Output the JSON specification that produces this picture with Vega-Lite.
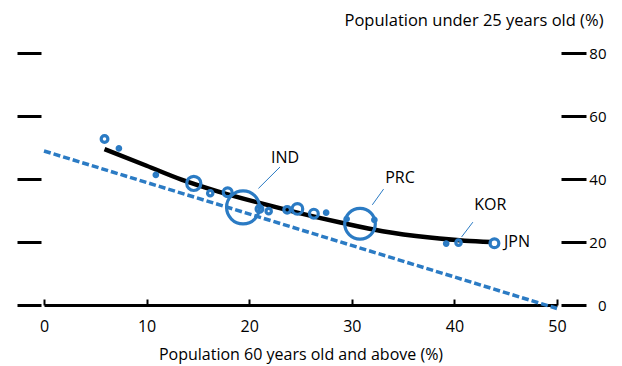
{
  "$schema": "https://vega.github.io/schema/vega-lite/v6.json",
  "width": 513,
  "height": 252,
  "autosize": {"type": "none"},
  "padding": {"left": 44, "top": 53, "right": 65, "bottom": 61},
  "config": {
    "view": {"stroke": null},
    "font": "Open Sans",
    "axis": {"grid": false}
  },
  "datasets": {
    "trend": [
      {"x": 0, "y": 48.9},
      {"x": 50, "y": -1.1}
    ],
    "curve": [
      {"x": 5.9, "y": 49.5},
      {"x": 10, "y": 44.2},
      {"x": 13.4, "y": 39.8},
      {"x": 17, "y": 36.0},
      {"x": 21, "y": 32.4},
      {"x": 25, "y": 29.1},
      {"x": 29, "y": 26.1},
      {"x": 33, "y": 23.4},
      {"x": 37.6, "y": 21.4},
      {"x": 41, "y": 20.4},
      {"x": 43.6, "y": 20.0}
    ],
    "bubbles": [
      {"x": 5.9, "y": 52.7, "pop": 60},
      {"x": 7.3, "y": 49.7, "pop": 16},
      {"x": 10.9, "y": 41.3, "pop": 16},
      {"x": 14.6, "y": 38.6, "pop": 267},
      {"x": 16.2, "y": 35.5, "pop": 38},
      {"x": 17.9, "y": 35.8, "pop": 104},
      {"x": 19.4, "y": 31.0, "pop": 1450},
      {"x": 21.0, "y": 30.5, "pop": 60},
      {"x": 21.9, "y": 29.8, "pop": 38},
      {"x": 23.7, "y": 30.2, "pop": 60},
      {"x": 24.7, "y": 30.5, "pop": 150},
      {"x": 26.3, "y": 29.0, "pop": 104},
      {"x": 27.5, "y": 29.3, "pop": 16},
      {"x": 30.8, "y": 25.8, "pop": 1250},
      {"x": 29.5, "y": 27.3, "pop": 16},
      {"x": 32.2, "y": 27.0, "pop": 16},
      {"x": 39.2, "y": 19.5, "pop": 16},
      {"x": 40.4, "y": 19.8, "pop": 38},
      {"x": 43.9, "y": 19.6, "pop": 104}
    ],
    "leaders": [
      {"x": 23.0, "y": 43.8, "x2": 20.9, "y2": 37.0},
      {"x": 33.1, "y": 36.8, "x2": 32.0, "y2": 31.8},
      {"x": 41.8, "y": 26.3, "x2": 40.7, "y2": 21.6}
    ],
    "labels": [
      {"x": 23.5, "y": 46.7, "label": "IND"},
      {"x": 34.7, "y": 40.3, "label": "PRC"},
      {"x": 43.5, "y": 31.7, "label": "KOR"},
      {"x": 46.1, "y": 20.0, "label": "JPN"}
    ]
  },
  "layer": [
    {
      "data": {"name": "trend"},
      "mark": {"type": "line", "color": "#2b7bc4", "strokeWidth": 3.5, "strokeDash": [7, 3]},
      "encoding": {
        "x": {
          "field": "x", "type": "quantitative", "scale": {"domain": [0, 50], "nice": false},
          "title": "Population 60 years old and above (%)",
          "axis": {
            "values": [0, 10, 20, 30, 40, 50],
            "labelFlush": false,
            "domainColor": "#000000", "domainWidth": 3,
            "tickColor": "#000000", "tickWidth": 2, "tickSize": -6,
            "labelFontSize": 16, "labelColor": "#000000", "labelPadding": 19,
            "titleFontSize": 16, "titleFontWeight": "normal", "titleColor": "#000000", "titlePadding": 12
          }
        },
        "y": {
          "field": "y", "type": "quantitative",
          "scale": {"domain": [0, 80], "nice": false},
          "axis": {
            "orient": "left", "offset": 3, "tickSize": 24, "tickWidth": 3, "tickColor": "#000000",
            "labels": false, "domain": false, "title": null, "values": [0, 20, 40, 60, 80]
          }
        }
      }
    },
    {
      "data": {"name": "curve"},
      "mark": {"type": "line", "color": "#000000", "strokeWidth": 4.5, "interpolate": "monotone"},
      "encoding": {
        "x": {"field": "x", "type": "quantitative", "title": "Population 60 years old and above (%)"},
        "y": {
          "field": "y", "type": "quantitative",
          "axis": {
            "orient": "right", "offset": 4, "tickSize": 25, "tickWidth": 3, "tickColor": "#000000",
            "domain": false, "values": [0, 20, 40, 60, 80],
            "labelFontSize": 15, "labelColor": "#000000", "labelAlign": "right", "labelPadding": 20,
            "title": "Population under 25 years old (%)",
            "titleAngle": 0, "titleX": 42, "titleY": -33, "titleAlign": "right", "titleBaseline": "middle",
            "titleFontSize": 16.5, "titleFontWeight": "normal", "titleColor": "#000000"
          }
        }
      }
    },
    {
      "data": {"name": "bubbles"},
      "mark": {"type": "point", "shape": "circle", "filled": false, "color": "#2b7bc4", "strokeWidth": 3.2, "opacity": 1},
      "encoding": {
        "x": {"field": "x", "type": "quantitative", "title": "Population 60 years old and above (%)"},
        "y": {"field": "y", "type": "quantitative", "axis": null},
        "size": {"field": "pop", "type": "quantitative", "scale": {"type": "linear", "domain": [0, 1400], "range": [0, 1050]}, "legend": null}
      }
    },
    {
      "data": {"name": "leaders"},
      "mark": {"type": "rule", "color": "#2b7bc4", "strokeWidth": 1},
      "encoding": {
        "x": {"field": "x", "type": "quantitative", "title": "Population 60 years old and above (%)"},
        "y": {"field": "y", "type": "quantitative", "axis": null},
        "x2": {"field": "x2"},
        "y2": {"field": "y2"}
      }
    },
    {
      "data": {"name": "labels"},
      "mark": {"type": "text", "fontSize": 16, "color": "#000000", "baseline": "middle", "align": "center"},
      "encoding": {
        "x": {"field": "x", "type": "quantitative", "title": "Population 60 years old and above (%)"},
        "y": {"field": "y", "type": "quantitative", "axis": null},
        "text": {"field": "label"}
      }
    }
  ],
  "resolve": {"axis": {"y": "independent"}}
}
